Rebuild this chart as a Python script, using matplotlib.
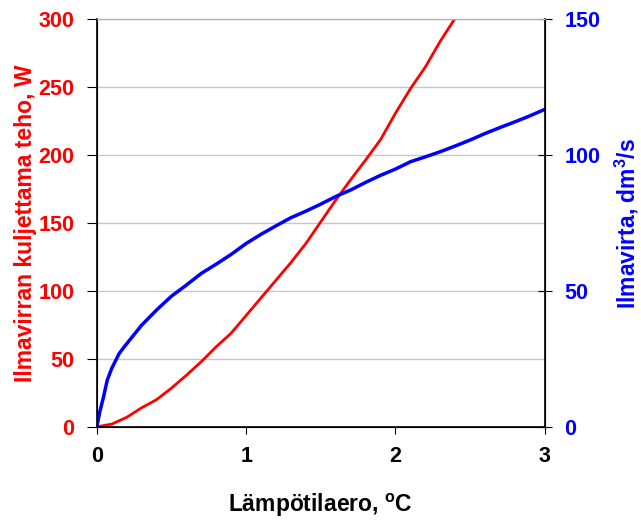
import matplotlib.pyplot as plt

plt.rcParams['font.family'] = ['Liberation Sans', 'DejaVu Sans']
plt.rcParams['font.weight'] = 'bold'
plt.rcParams['mathtext.default'] = 'regular'

# ilmavirran kuljettama teho (W)
dt_teho = [0, 0.1, 0.2, 0.3, 0.4, 0.5, 0.6, 0.7, 0.8, 0.9, 1.0, 1.1, 1.2, 1.3,
           1.4, 1.5, 1.6, 1.7, 1.8, 1.9, 2.0, 2.1, 2.2, 2.3, 2.4, 2.5]
teho = [0, 2, 7, 14, 20, 28.5, 38, 48, 59, 69, 82, 95, 108, 121,
        135, 151, 167, 182, 196.5, 211.5, 231, 249, 265, 284, 301, 320]

# ilmavirta (dm3/s)
dt_virta = [0, 0.02, 0.045, 0.07, 0.1, 0.15, 0.18, 0.3, 0.4, 0.5, 0.6, 0.7, 0.8,
            0.9, 1.0, 1.1, 1.2, 1.3, 1.4, 1.5, 1.6, 1.7, 1.8, 1.9, 2.0, 2.1,
            2.2, 2.3, 2.4, 2.5, 2.6, 2.7, 2.8, 2.9, 3.0]
virta = [0, 5.5, 11, 17.2, 21.5, 27, 29.2, 37.4, 43, 48.1, 52.2, 56.5, 59.9,
         63.5, 67.5, 70.9, 74, 77, 79.4, 82, 84.8, 87.2, 90, 92.6, 94.9, 97.6,
         99.4, 101.3, 103.4, 105.6, 108, 110.2, 112.3, 114.5, 116.9]

fig = plt.figure(figsize=(6.41, 5.25), dpi=100)
ax = fig.add_axes([0.151, 0.187, 0.699, 0.776])
ax2 = ax.twinx()

ax.plot(dt_teho, teho, color='#ff0000', lw=2, clip_on=True)
ax2.plot(dt_virta, virta, color='#0000ff', lw=2.5)

ax.set_xlim(0, 3)
ax.set_ylim(0, 300)
ax2.set_ylim(0, 150)
ax.set_xticks([0, 1, 2, 3])
ax.set_yticks(range(0, 301, 50))
ax2.set_yticks(range(0, 151, 50))
ax.yaxis.grid(True, color='#c8c8c8', lw=1)
ax.set_axisbelow(True)

ax.tick_params(axis='x', labelsize=15.5, direction='out', length=5, pad=9, colors='black')
ax.tick_params(axis='y', labelsize=15.5, direction='out', length=7, pad=9, labelcolor='#ff0000')
ax2.tick_params(axis='y', labelsize=15.5, direction='inout', length=10, pad=9, labelcolor='#0000ff')

ax.spines['top'].set_color('#b0b0b0')
ax2.spines['top'].set_color('#b0b0b0')
for s in ['left', 'bottom']:
    ax.spines[s].set_linewidth(1.2)
ax2.spines['right'].set_linewidth(1.2)

ax.set_xlabel(r'Lämpötilaero, $^{\mathregular{o}}$C', fontsize=16.5, fontweight='bold', labelpad=18)
ax.set_ylabel('Ilmavirran kuljettama teho, W', fontsize=16.5, fontweight='bold',
              color='#ff0000', labelpad=1)
ax2.set_ylabel(r'Ilmavirta, dm$^{\mathregular{3}}$/s', fontsize=16.5, fontweight='bold',
               color='#0000ff', labelpad=9)

plt.savefig('out.png', dpi=100)
